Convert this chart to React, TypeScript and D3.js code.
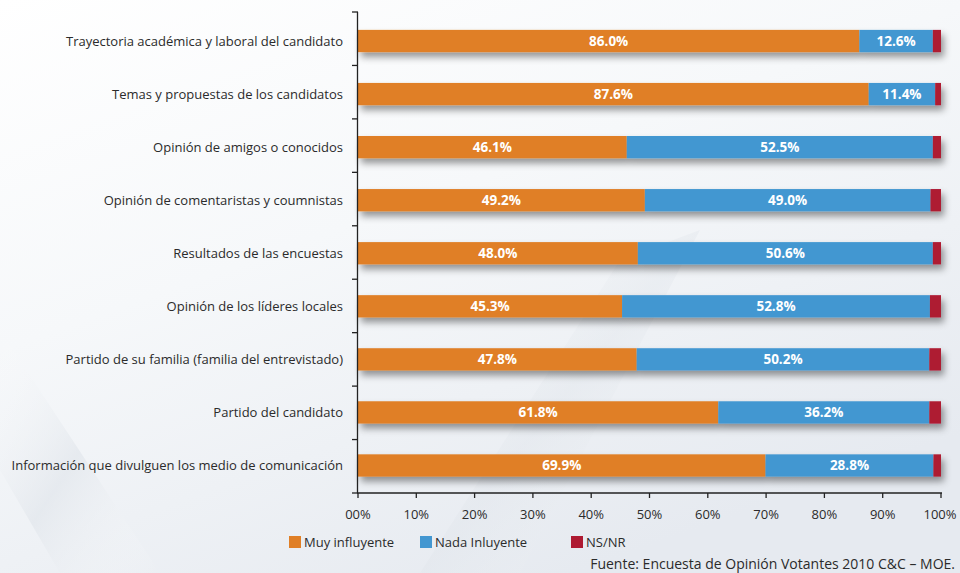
import React from "react";
import * as d3 from "d3";

const categories = [
  "Trayectoria académica y laboral del candidato",
  "Temas y propuestas de los candidatos",
  "Opinión de amigos o conocidos",
  "Opinión de comentaristas y coumnistas",
  "Resultados de las encuestas",
  "Opinión de los líderes locales",
  "Partido de su familia (familia del entrevistado)",
  "Partido del candidato",
  "Información que divulguen los medio de comunicación",
];
const muyInfluyente = [86.0, 87.6, 46.1, 49.2, 48.0, 45.3, 47.8, 61.8, 69.9];
const nadaInfluyente = [12.6, 11.4, 52.5, 49.0, 50.6, 52.8, 50.2, 36.2, 28.8];
const nsnr = [1.4, 1.0, 1.4, 1.8, 1.4, 1.9, 2.0, 2.0, 1.3];
const seriesNames = ["Muy influyente", "Nada Inluyente", "NS/NR"];
const seriesColors = ["#E07F26", "#4397D1", "#AE1A32"];
const xTicks = [0, 10, 20, 30, 40, 50, 60, 70, 80, 90, 100];
const xTickLabels = ["00%", "10%", "20%", "30%", "40%", "50%", "60%", "70%", "80%", "90%", "100%"];
const source = "Fuente: Encuesta de Opinión Votantes 2010 C&C – MOE.";

const W = 960;
const H = 573;
const FONT = "'Open Sans', 'Noto Sans', sans-serif";

export default function App() {
  const x = d3.scaleLinear().domain([0, 100]).range([358, 941]);
  const y = d3.scaleBand<number>().domain(d3.range(categories.length)).range([14.5, 492]).paddingInner(0.58).paddingOuter(0.29);
  const rows = categories.map((c, i) => ({
    c,
    vals: [muyInfluyente[i], nadaInfluyente[i], nsnr[i]],
  }));
  const stack = d3.stack<any>().keys(["0", "1", "2"]).value((d, k) => d.vals[+k]);
  const stacked = stack(rows);
  const bw = y.bandwidth();
  const boundaries = d3.range(categories.length + 1).map((i) => 12 + (i * (493 - 12)) / categories.length);

  return (
    <svg width={W} height={H} style={{ position: "absolute", left: 0, top: 0 }} fontFamily={FONT}>
      <defs>
        <linearGradient id="bg" x1="0" y1="0" x2="0.6" y2="1">
          <stop offset="0" stopColor="#ffffff" />
          <stop offset="0.45" stopColor="#f6f8fa" />
          <stop offset="1" stopColor="#e6eaf0" />
        </linearGradient>
        <linearGradient id="streak" x1="0" y1="0" x2="1" y2="1">
          <stop offset="0" stopColor="#ffffff" stopOpacity="0" />
          <stop offset="0.5" stopColor="#dfe4ea" stopOpacity="0.6" />
          <stop offset="1" stopColor="#ffffff" stopOpacity="0" />
        </linearGradient>
        <filter id="shadow" x="-5%" y="-50%" width="110%" height="250%">
          <feDropShadow dx="3" dy="5" stdDeviation="3.5" floodColor="#000" floodOpacity="0.4" />
        </filter>
      </defs>
      <rect x={0} y={0} width={W} height={H} fill="url(#bg)" />
      <polygon points="0,330 160,573 60,573 0,470" fill="url(#streak)" />
      <polygon points="420,573 620,260 700,230 520,573" fill="url(#streak)" opacity={0.6} />

      {/* bars */}
      {rows.map((r, i) => (
        <g key={"row" + i} filter="url(#shadow)">
          {stacked.map((s, k) => (
            <rect
              key={k}
              x={x(s[i][0])}
              y={y(i)}
              width={Math.max(0, x(s[i][1]) - x(s[i][0]))}
              height={bw}
              fill={seriesColors[k]}
            />
          ))}
        </g>
      ))}
      {rows.map((r, i) =>
        stacked.slice(0, 2).map((s, k) => (
          <text
            key={"l" + i + k}
            x={(x(s[i][0]) + x(s[i][1])) / 2}
            y={(y(i) as number) + bw / 2}
            dy="0.35em"
            textAnchor="middle"
            fill="#fff"
            fontWeight="bold"
            fontSize={13.5}
          >
            {r.vals[k].toFixed(1) + "%"}
          </text>
        ))
      )}

      {/* y axis */}
      <line x1={357.5} x2={357.5} y1={12} y2={493} stroke="#222" strokeWidth={1.3} />
      {boundaries.map((b, i) => (
        <line key={"yt" + i} x1={352} x2={358} y1={b} y2={b} stroke="#222" strokeWidth={1.3} />
      ))}
      {categories.map((c, i) => (
        <text key={"c" + i} x={343} y={(y(i) as number) + bw / 2} dy="0.35em" textAnchor="end" fontSize={13} fill="#2b2b2b">
          {c}
        </text>
      ))}

      {/* x axis */}
      <line x1={357} x2={942} y1={493} y2={493} stroke="#222" strokeWidth={1.3} />
      {xTicks.map((t, i) => (
        <g key={"xt" + i}>
          <line x1={x(t)} x2={x(t)} y1={493} y2={498} stroke="#222" strokeWidth={1.3} />
          <text x={i === xTicks.length - 1 ? x(t) - 1 : x(t)} y={519} textAnchor="middle" fontSize={13} fill="#2b2b2b">
            {xTickLabels[i]}
          </text>
        </g>
      ))}

      {/* legend */}
      {seriesNames.map((n, k) => {
        const lx = [289, 420, 571][k];
        return (
          <g key={"lg" + k}>
            <rect x={lx} y={536} width={12} height={12} fill={seriesColors[k]} />
            <text x={lx + 15} y={547} fontSize={13} fill="#2b2b2b">
              {n}
            </text>
          </g>
        );
      })}
      <text x={955} y={569} textAnchor="end" fontSize={14} fill="#2b2b2b">
        {source}
      </text>
    </svg>
  );
}
